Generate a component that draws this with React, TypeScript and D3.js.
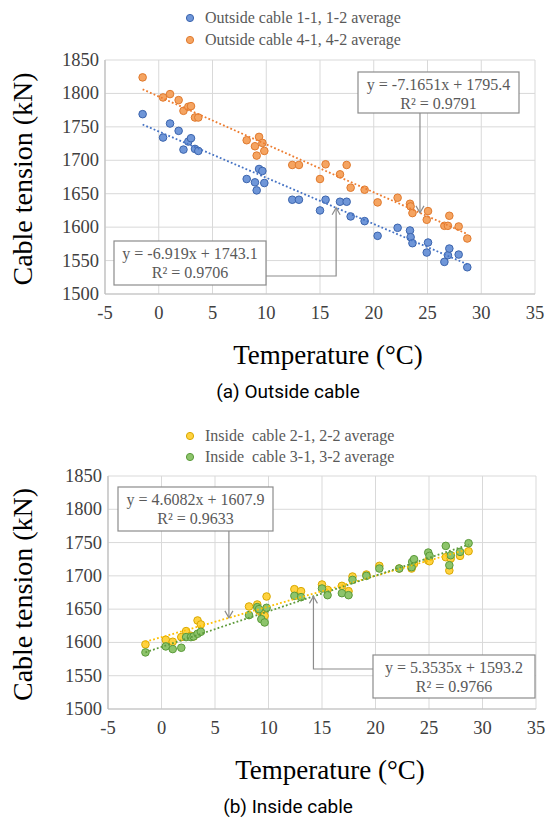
import * as d3 from "d3";

// temperatures (°C) shared by both panels
const temps = [
  -1.5, 0.4, 1.05, 1.85, 2.3, 2.75, 3.0, 3.37, 3.68,
  8.18, 8.95, 9.11, 9.33, 9.64, 9.82,
  12.42, 13.04,
  15.0, 15.52, 16.86, 17.48, 17.85, 19.15, 20.36, 22.22,
  23.37, 23.43, 23.6,
  24.93, 25.05,
  26.57, 26.9, 27.03, 27.9, 28.7,
];

// cable tension (kN)
const outside12 = [
  1769, 1734, 1755, 1744, 1716, 1728, 1733, 1717, 1714,
  1672, 1667, 1655, 1687, 1684, 1666,
  1641, 1641,
  1625, 1641, 1638, 1638, 1616, 1609, 1587, 1599,
  1595, 1585, 1576,
  1562, 1577,
  1548, 1558, 1568, 1559, 1540,
];
const outside42 = [
  1824, 1794, 1799, 1790, 1774, 1780, 1781, 1764, 1764,
  1730, 1721, 1707, 1735, 1726, 1714,
  1693, 1693,
  1672, 1694, 1679, 1693, 1659, 1656, 1637, 1644,
  1635, 1631, 1621,
  1611, 1624,
  1602, 1602, 1617, 1601, 1583,
];
const inside22 = [
  1597, 1604, 1601, 1608, 1617, 1610, 1609, 1633, 1627,
  1654, 1657, 1648, 1645, 1640, 1669,
  1680, 1677,
  1687, 1679, 1685, 1677, 1699, 1702, 1715, 1711,
  1711, 1714, 1718,
  1723, 1722,
  1728, 1708, 1726, 1730, 1737,
];
const inside32 = [
  1585, 1594, 1590, 1592, 1608, 1608, 1609, 1613, 1616,
  1641, 1653, 1650, 1635, 1630, 1652,
  1670, 1668,
  1681, 1671, 1674, 1671, 1694, 1700, 1711, 1711,
  1713, 1721, 1725,
  1735, 1730,
  1745, 1716, 1731, 1736, 1749,
];

const xTicks = [-5, 0, 5, 10, 15, 20, 25, 30, 35];
const yTicks = [1500, 1550, 1600, 1650, 1700, 1750, 1800, 1850];

const SERIF = "'Liberation Serif', 'Times New Roman', serif";
const SANS = "Roboto, 'Noto Sans', sans-serif";

type Series = {
  label: string;
  values: number[];
  fill: string;
  stroke: string;
  trend: string;
  slope: number;
  intercept: number;
};

type Note = {
  box: [number, number, number, number];
  lines: string[];
  series: number;
  atX: number;
  elbowY?: number;
};

type PanelProps = {
  left: number;
  right: number;
  top: number;
  bottom: number;
  series: Series[];
  legendY: number[];
  notes: Note[];
  caption: string;
};

function Panel({ left, right, top, bottom, series, legendY, notes, caption }: PanelProps) {
  const x = d3.scaleLinear().domain([-5, 35]).range([left, right]);
  const y = d3.scaleLinear().domain([1500, 1850]).range([bottom, top]);
  const [tMin, tMax] = d3.extent(temps) as [number, number];

  return (
    <g>
      {/* legend */}
      {series.map((s, i) => (
        <g key={"lg" + i}>
          <circle cx={190} cy={legendY[i]} r={3.6} fill={s.fill} stroke={s.stroke} strokeWidth={1} />
          <text
            x={205}
            y={legendY[i] + 5}
            fontFamily={SERIF}
            fontSize={16}
            fill="#595959"
            style={{ whiteSpace: "pre" }}
          >
            {s.label}
          </text>
        </g>
      ))}

      {/* grid */}
      {yTicks.map((v) => (
        <line key={"gy" + v} x1={left} x2={right} y1={y(v)} y2={y(v)} stroke="#d9d9d9" strokeWidth={1} />
      ))}
      {xTicks.map((v) => (
        <line key={"gx" + v} x1={x(v)} x2={x(v)} y1={top} y2={bottom} stroke="#d9d9d9" strokeWidth={1} />
      ))}
      <line x1={left} x2={right} y1={bottom} y2={bottom} stroke="#bfbfbf" strokeWidth={1.2} />
      <line x1={left} x2={left} y1={top} y2={bottom} stroke="#bfbfbf" strokeWidth={1.2} />

      {/* tick labels */}
      {yTicks.map((v) => (
        <text
          key={"ty" + v}
          x={left - 6}
          y={y(v) + 6}
          textAnchor="end"
          fontFamily={SERIF}
          fontSize={18.5}
          fill="#404040"
        >
          {v}
        </text>
      ))}
      {xTicks.map((v) => (
        <text
          key={"tx" + v}
          x={x(v)}
          y={bottom + 25}
          textAnchor="middle"
          fontFamily={SERIF}
          fontSize={18.5}
          fill="#404040"
        >
          {v}
        </text>
      ))}

      {/* points */}
      {series.map((s, i) => (
        <g key={"pts" + i}>
          {temps.map((t, j) => (
            <circle
              key={j}
              cx={x(t)}
              cy={y(s.values[j])}
              r={3.8}
              fill={s.fill}
              stroke={s.stroke}
              strokeWidth={1}
            />
          ))}
        </g>
      ))}

      {/* trendlines */}
      {series.map((s, i) => (
        <path
          key={"tr" + i}
          d={
            d3
              .line<number>()
              .x((t) => x(t))
              .y((t) => y(s.slope * t + s.intercept))([tMin, tMax]) ?? ""
          }
          fill="none"
          stroke={s.trend}
          strokeWidth={1.8}
          strokeDasharray="1.8 2.2"
        />
      ))}

      {/* equation boxes */}
      {notes.map((n, i) => {
        const s = series[n.series];
        const tx = x(n.atX);
        const ty = y(s.slope * n.atX + s.intercept);
        const [bx0, by0, bx1, by1] = n.box;
        let d: string;
        let head: string;
        if (n.elbowY === undefined) {
          d = `M${tx},${by1}V${ty}`;
          head = `M${tx - 4},${ty - 7}L${tx},${ty}L${tx + 4},${ty - 7}`;
        } else {
          const sx = bx1 < tx ? bx1 : bx0;
          d = `M${sx},${n.elbowY}H${tx}V${ty}`;
          head = `M${tx - 4},${ty + 7}L${tx},${ty}L${tx + 4},${ty + 7}`;
        }
        return (
          <g key={"nt" + i}>
            <path d={d} fill="none" stroke="#8c8c8c" strokeWidth={1.2} />
            <path d={head} fill="none" stroke="#8c8c8c" strokeWidth={1.2} />
            <rect x={bx0} y={by0} width={bx1 - bx0} height={by1 - by0} fill="#fff" stroke="#8c8c8c" strokeWidth={1.2} />
            {n.lines.map((l, k) => (
              <text
                key={k}
                x={(bx0 + bx1) / 2}
                y={by0 + 18 + k * 19}
                textAnchor="middle"
                fontFamily={SERIF}
                fontSize={16}
                fill="#595959"
              >
                {l}
              </text>
            ))}
          </g>
        );
      })}

      {/* axis titles */}
      <text
        transform={`translate(32,${(top + bottom) / 2 + 2}) rotate(-90)`}
        textAnchor="middle"
        fontFamily={SERIF}
        fontSize={28}
        fill="#000"
      >
        Cable tension (kN)
      </text>
      <text x={(left + right) / 2 + 8} y={bottom + 70} textAnchor="middle" fontFamily={SERIF} fontSize={27} fill="#000">
        Temperature (°C)
      </text>
      <text x={288} y={bottom + 104} textAnchor="middle" fontFamily={SANS} fontSize={19} fill="#000">
        {caption}
      </text>
    </g>
  );
}

export default function App() {
  const outsideSeries: Series[] = [
    {
      label: "Outside cable 1-1, 1-2 average",
      values: outside12,
      fill: "#6f96d8",
      stroke: "#3b64ad",
      trend: "#4472c4",
      slope: -6.919,
      intercept: 1743.1,
    },
    {
      label: "Outside cable 4-1, 4-2 average",
      values: outside42,
      fill: "#f5a461",
      stroke: "#e07a2e",
      trend: "#ed7d31",
      slope: -7.1651,
      intercept: 1795.4,
    },
  ];
  const insideSeries: Series[] = [
    {
      label: "Inside  cable 2-1, 2-2 average",
      values: inside22,
      fill: "#ffd23f",
      stroke: "#d9a800",
      trend: "#ffc000",
      slope: 4.6082,
      intercept: 1607.9,
    },
    {
      label: "Inside  cable 3-1, 3-2 average",
      values: inside32,
      fill: "#8dc46b",
      stroke: "#5a9a3a",
      trend: "#5e9a3a",
      slope: 5.3535,
      intercept: 1593.2,
    },
  ];

  return (
    <svg
      width={550}
      height={821}
      viewBox="0 0 550 821"
      style={{ position: "absolute", left: 0, top: 0, background: "#fff" }}
    >
      <Panel
        left={105}
        right={535}
        top={60}
        bottom={294}
        series={outsideSeries}
        legendY={[18, 40]}
        caption="(a) Outside cable"
        notes={[
          { box: [358, 72, 519, 113], lines: ["y = -7.1651x + 1795.4", "R² = 0.9791"], series: 1, atX: 24.3 },
          { box: [114, 241, 266, 285], lines: ["y = -6.919x + 1743.1", "R² = 0.9706"], series: 0, atX: 16.5, elbowY: 276 },
        ]}
      />
      <Panel
        left={108}
        right={536}
        top={476}
        bottom={709}
        series={insideSeries}
        legendY={[436, 457]}
        caption="(b) Inside cable"
        notes={[
          { box: [118, 487, 273, 531], lines: ["y = 4.6082x + 1607.9", "R² = 0.9633"], series: 0, atX: 6.3 },
          { box: [373, 655, 535, 698], lines: ["y = 5.3535x + 1593.2", "R² = 0.9766"], series: 1, atX: 14.2, elbowY: 669 },
        ]}
      />
    </svg>
  );
}
